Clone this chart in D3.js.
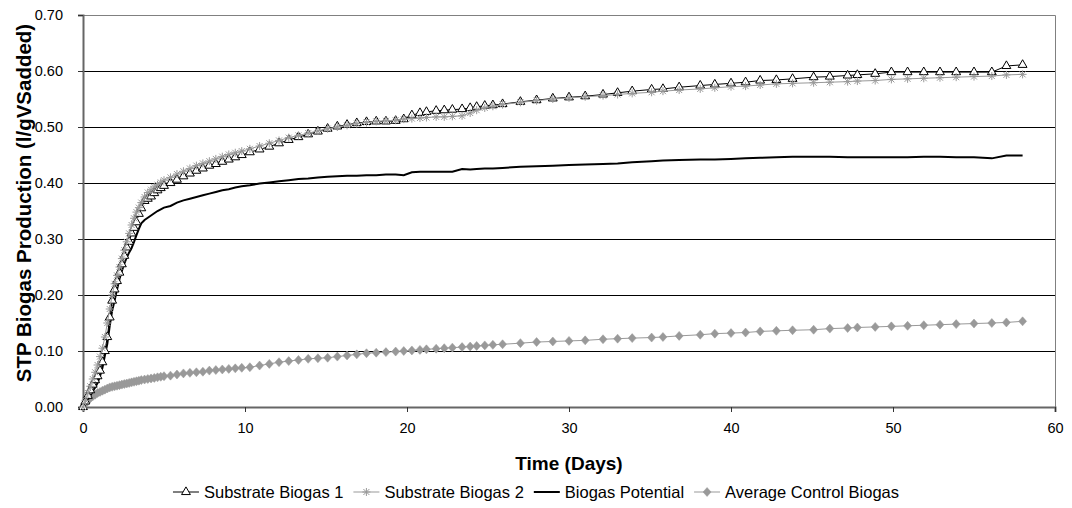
<!DOCTYPE html>
<html lang="en">
<head>
<meta charset="UTF-8">
<title>STP Biogas Production</title>
<script src="https://d3js.org/d3.v7.min.js"></script>
<style>
  body { margin: 0; background: #fff; }
  text { font-family: "Liberation Sans", Arial, sans-serif; }
</style>
</head>
<body>
<div id="chart"></div>
<script>

// sampling days (shared by all series)
const days = [
  0, 0.15, 0.3, 0.45, 0.6, 0.75, 0.9, 1.05, 1.2, 1.35, 1.5, 1.65, 1.8, 1.95, 2.1, 2.25,
  2.4, 2.55, 2.7, 2.85, 3.0, 3.15, 3.3, 3.45, 3.6, 3.8, 4.0, 4.2, 4.4, 4.6, 4.8, 5.0,
  5.4, 5.8, 6.2, 6.6, 7.0, 7.4, 7.8, 8.2, 8.6, 9.0, 9.4, 9.8,
  10.3, 10.9, 11.5, 12.1, 12.7, 13.3, 13.9, 14.5, 15.1, 15.7, 16.3, 16.9, 17.5, 18.1, 18.7, 19.3, 19.8,
  20.3, 20.8, 21.2, 21.8, 22.3, 22.8, 23.4, 23.9, 24.3, 24.8, 25.3, 25.9,
  27, 28, 29, 30, 31, 32.1, 33, 33.9, 35.1, 35.8, 36.8, 38.1, 39, 40, 40.9, 41.8, 42.8, 43.8,
  45.1, 46.1, 47.2, 47.8, 48.9, 49.9, 50.9, 51.9, 52.9, 53.9, 55, 56.1, 57, 58
];

const substrate1 = [
  0, 0.01, 0.02, 0.03, 0.04, 0.048, 0.055, 0.065, 0.08, 0.1, 0.125, 0.16, 0.19, 0.21, 0.225, 0.24,
  0.255, 0.27, 0.285, 0.295, 0.31, 0.32, 0.33, 0.345, 0.355, 0.368, 0.372, 0.376, 0.382, 0.387, 0.391, 0.395,
  0.4, 0.406, 0.412, 0.417, 0.422, 0.426, 0.431, 0.434, 0.438, 0.442, 0.446, 0.45,
  0.455, 0.46, 0.465, 0.471, 0.477, 0.482, 0.487, 0.492, 0.497, 0.501, 0.504, 0.507, 0.509, 0.51, 0.51, 0.511, 0.514,
  0.521, 0.525, 0.527, 0.529, 0.53, 0.531, 0.532, 0.534, 0.536, 0.538, 0.539, 0.541,
  0.545, 0.548, 0.551, 0.553, 0.555, 0.558, 0.561, 0.564, 0.567, 0.568, 0.571, 0.574, 0.576, 0.578, 0.58, 0.583, 0.584, 0.586,
  0.589, 0.59, 0.592, 0.593, 0.595, 0.598, 0.598, 0.598, 0.598, 0.598, 0.598, 0.598, 0.609, 0.611
];

const substrate2 = [
  0, 0.012, 0.025, 0.037, 0.05, 0.062, 0.075, 0.09, 0.105, 0.125, 0.15, 0.175, 0.2, 0.22, 0.235, 0.25,
  0.265, 0.28, 0.295, 0.31, 0.325, 0.337, 0.348, 0.356, 0.365, 0.375, 0.383, 0.388, 0.393, 0.397, 0.401, 0.405,
  0.41, 0.416, 0.421, 0.426, 0.431, 0.435, 0.439, 0.443, 0.447, 0.451, 0.454, 0.457,
  0.461, 0.466, 0.471, 0.476, 0.481, 0.485, 0.489, 0.493, 0.497, 0.5, 0.503, 0.506, 0.508, 0.51, 0.511, 0.512, 0.514,
  0.515, 0.516, 0.517, 0.518, 0.518, 0.519, 0.52, 0.525, 0.53, 0.534, 0.537, 0.54,
  0.544, 0.547, 0.55, 0.552, 0.554, 0.556, 0.558, 0.56, 0.562, 0.564, 0.566, 0.568, 0.57, 0.572, 0.573, 0.575, 0.577, 0.578,
  0.579, 0.58, 0.581, 0.582, 0.583, 0.585, 0.586, 0.587, 0.588, 0.589, 0.59, 0.591, 0.593, 0.594
];

const potential = [
  0, 0.006, 0.013, 0.02, 0.028, 0.035, 0.043, 0.055, 0.07, 0.092, 0.113, 0.145, 0.172, 0.19, 0.21, 0.228,
  0.243, 0.256, 0.267, 0.276, 0.284, 0.295, 0.307, 0.318, 0.328, 0.334, 0.338, 0.342, 0.346, 0.35, 0.353, 0.356,
  0.359, 0.365, 0.369, 0.372, 0.375, 0.378, 0.381, 0.384, 0.387, 0.389, 0.392, 0.394,
  0.396, 0.399, 0.401, 0.403, 0.405, 0.407, 0.408, 0.41, 0.411, 0.412, 0.413, 0.413, 0.414, 0.414, 0.415, 0.415, 0.414,
  0.419, 0.42, 0.42, 0.42, 0.42, 0.42, 0.425, 0.424, 0.425, 0.426, 0.426, 0.427,
  0.429, 0.43, 0.431, 0.432, 0.433, 0.434, 0.435, 0.437, 0.439, 0.44, 0.441, 0.442, 0.442, 0.443, 0.444, 0.445, 0.446, 0.447,
  0.447, 0.447, 0.446, 0.446, 0.446, 0.446, 0.446, 0.447, 0.447, 0.446, 0.446, 0.444, 0.449, 0.449
];

const control = [
  0, 0.006, 0.011, 0.016, 0.019, 0.022, 0.025, 0.027, 0.029, 0.031, 0.033, 0.035, 0.036, 0.037, 0.038, 0.039,
  0.04, 0.041, 0.042, 0.043, 0.044, 0.045, 0.046, 0.047, 0.048, 0.049, 0.05, 0.051, 0.052, 0.053, 0.054, 0.055,
  0.056, 0.058, 0.06, 0.061, 0.062, 0.063, 0.065, 0.066, 0.067, 0.068, 0.069, 0.07,
  0.071, 0.074, 0.077, 0.08, 0.082, 0.084, 0.086, 0.087, 0.088, 0.09, 0.092, 0.094, 0.096, 0.097, 0.098, 0.099, 0.1,
  0.101, 0.102, 0.103, 0.104, 0.105, 0.106, 0.107, 0.108, 0.109, 0.11, 0.111, 0.112,
  0.114, 0.116, 0.117, 0.118, 0.119, 0.121, 0.122, 0.123, 0.124, 0.125, 0.127, 0.129, 0.131, 0.132, 0.133, 0.135, 0.136, 0.137,
  0.138, 0.14, 0.141, 0.142, 0.143, 0.144, 0.145, 0.146, 0.147, 0.148, 0.149, 0.15, 0.151, 0.153
];

const seriesNames = ["Substrate Biogas 1", "Substrate Biogas 2", "Biogas Potential", "Average Control Biogas"];
const xTicks = [0, 10, 20, 30, 40, 50, 60];
const yTicks = [0, 0.1, 0.2, 0.3, 0.4, 0.5, 0.6, 0.7];

const width = 1072, height = 508;
const margin = {left: 83, right: 17, top: 15, bottom: 101};
const grey = "#999999";

const svg = d3.select("#chart").append("svg")
    .attr("width", width)
    .attr("height", height);

const x = d3.scaleLinear().domain([0, 60]).range([margin.left, width - margin.right]);
const y = d3.scaleLinear().domain([0, 0.7]).range([height - margin.bottom, margin.top]);

// gridlines
svg.append("g")
    .selectAll("line")
    .data(yTicks.slice(1))
    .join("line")
    .attr("x1", x(0)).attr("x2", x(60))
    .attr("y1", d => Math.round(y(d)) + 0.5)
    .attr("y2", d => Math.round(y(d)) + 0.5)
    .attr("stroke", "#000")
    .attr("stroke-width", 1);

// plot frame (top / right)
svg.append("path")
    .attr("d", `M${x(0)},${Math.round(y(0.7)) + 0.5}H${Math.round(x(60)) + 0.5}V${y(0)}`)
    .attr("fill", "none")
    .attr("stroke", "#808080");

// axes
const xAxis = svg.append("g")
    .attr("transform", `translate(0,${y(0)})`)
    .call(d3.axisBottom(x).tickValues(xTicks).tickSize(5).tickPadding(11));
const yAxis = svg.append("g")
    .attr("transform", `translate(${x(0)},0)`)
    .call(d3.axisLeft(y).tickValues(yTicks).tickFormat(d3.format(".2f")).tickSize(5).tickPadding(15));

[xAxis, yAxis].forEach(a => {
    a.select(".domain").attr("stroke", "#666").attr("stroke-width", 2);
    a.selectAll(".tick line").attr("stroke", "#333");
    a.selectAll("text").attr("font-size", 14.5).attr("fill", "#000")
        .style("font-family", "'Liberation Sans', Arial, sans-serif");
});

// axis titles
svg.append("text")
    .attr("x", (x(0) + x(60)) / 2)
    .attr("y", 470)
    .attr("text-anchor", "middle")
    .attr("font-size", 19)
    .attr("font-weight", "bold")
    .text("Time (Days)");

svg.append("text")
    .attr("transform", "translate(31,203) rotate(-90)")
    .attr("text-anchor", "middle")
    .attr("font-size", 20.5)
    .attr("font-weight", "bold")
    .text("STP Biogas Production (l/gVSadded)");

// marker shapes
const triangle = d3.symbol().type(d3.symbolTriangle).size(34);
const asterisk = "M-4,0H4M0,-4V4M-3,-3L3,3M-3,3L3,-3";
const diamond = "M0,-4.5L4,0L0,4.5L-4,0Z";

const line = d3.line().x(d => x(d[0])).y(d => y(d[1]));
const pairs = vals => days.map((d, i) => [d, vals[i]]);

const plot = svg.append("g");

function drawSeries(vals, color, lw, marker) {
    const pts = pairs(vals);
    plot.append("path")
        .datum(pts)
        .attr("d", line)
        .attr("fill", "none")
        .attr("stroke", color)
        .attr("stroke-width", lw);
    if (!marker) return;
    const g = plot.append("g");
    pts.forEach(p => {
        const m = g.append("path").attr("transform", `translate(${x(p[0])},${y(p[1])})`);
        marker(m);
    });
}

const triMarker = m => m.attr("d", triangle()).attr("fill", "#fff").attr("stroke", "#000").attr("stroke-width", 1);
const astMarker = m => m.attr("d", asterisk).attr("fill", "none").attr("stroke", grey).attr("stroke-width", 1);
const diaMarker = m => m.attr("d", diamond).attr("fill", grey).attr("stroke", grey).attr("stroke-width", 0.5);

drawSeries(control, grey, 1, diaMarker);
drawSeries(potential, "#000", 2, null);
drawSeries(substrate1, "#000", 1, triMarker);
drawSeries(substrate2, grey, 1, astMarker);

// legend
const legendItems = [
    {name: seriesNames[0], color: "#000", lw: 1, marker: triMarker},
    {name: seriesNames[1], color: grey, lw: 1, marker: astMarker},
    {name: seriesNames[2], color: "#000", lw: 2, marker: null},
    {name: seriesNames[3], color: grey, lw: 1, marker: diaMarker}
];

const legend = svg.append("g").attr("transform", "translate(0,492)");
const items = legendItems.map(it => {
    const g = legend.append("g");
    g.append("line")
        .attr("x1", 0).attr("x2", 26)
        .attr("y1", 0).attr("y2", 0)
        .attr("stroke", it.color).attr("stroke-width", it.lw);
    if (it.marker) it.marker(g.append("path").attr("transform", "translate(13,0)"));
    const t = g.append("text")
        .attr("x", 31)
        .attr("y", 6)
        .attr("font-size", 16.5)
        .text(it.name);
    return {g, w: 31 + t.node().getComputedTextLength()};
});
const gap = 10;
const total = d3.sum(items, d => d.w) + gap * (items.length - 1);
let lx = (width - total) / 2;
items.forEach(d => {
    d.g.attr("transform", `translate(${lx},0)`);
    lx += d.w + gap;
});

</script>
</body>
</html>
